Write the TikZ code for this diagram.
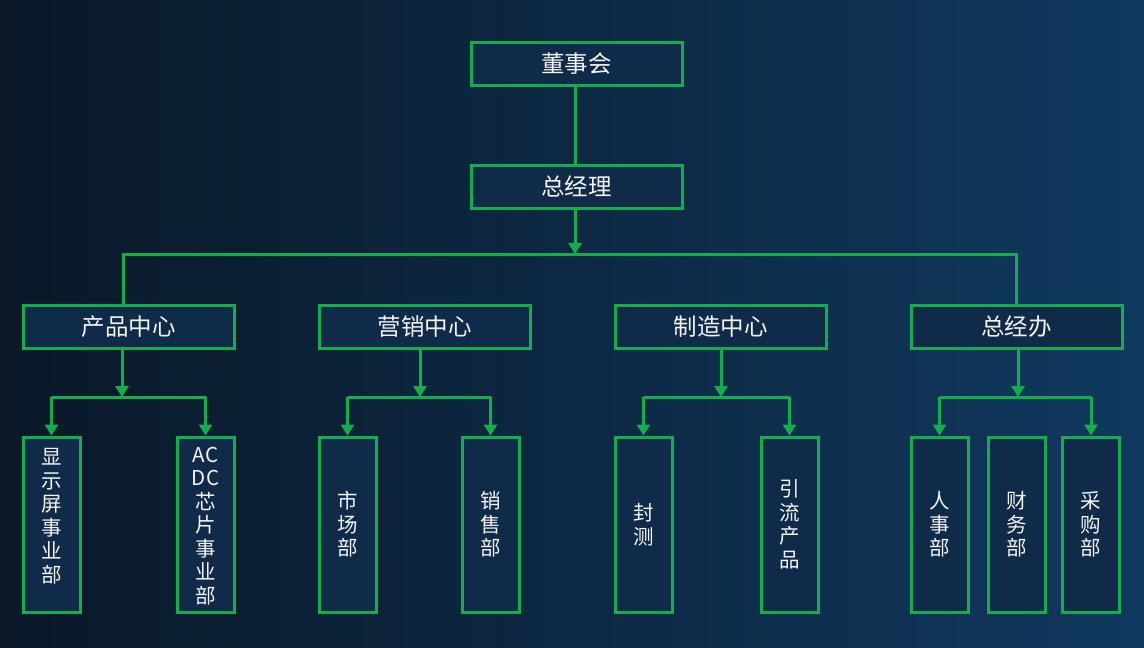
\documentclass[tikz,border=0pt]{standalone}
\usepackage{fontspec}
\newfontfamily\cjk{Noto Sans CJK SC}
\usetikzlibrary{arrows.meta,calc}
\definecolor{gline}{HTML}{12AE4C}
\definecolor{boxfill}{HTML}{0F2B49}
\definecolor{bgL}{HTML}{0A1828}
\definecolor{bgM}{HTML}{113C66}
\definecolor{bgR}{HTML}{10395F}
\definecolor{txt}{HTML}{F4F4F4}
\tikzset{
  conn/.style={draw=gline, line width=3pt},
  arr/.style={conn, -{Triangle[width=13pt,length=11pt]}},
  wbox/.style={draw=gline, line width=3pt, fill=boxfill, minimum width=211pt, minimum height=43pt, inner sep=0pt, text=txt, font=\cjk\fontsize{23.5}{26}\selectfont},
  tbox/.style={draw=gline, line width=3pt, fill=boxfill, minimum width=57pt, minimum height=175pt, text width=50pt, align=center, inner sep=0pt, text=txt, font=\cjk\fontsize{20.5}{23.5}\selectfont},
  vtxt/.style={text width=50pt, align=center, inner sep=0pt, text=txt, font=\cjk\fontsize{20.5}{23.5}\selectfont}
}
\begin{document}
\begin{tikzpicture}[x=1pt,y=-1pt]
\useasboundingbox (0,0) rectangle (1144,648);
\shade[left color=bgL, middle color=bgM, right color=bgR] (0,0) rectangle (1144,648);

\node[wbox] (dsh) at (576.5,63.5) {董事会};
\node[wbox] (zjl) at (576.5,186.5) {总经理};

\node[wbox] (cp) at (128.5,326.5) {产品中心};
\node[wbox] (yx) at (424.5,326.5) {营销中心};
\node[wbox] (zz) at (720.5,326.5) {制造中心};
\node[wbox] (zjb) at (1016.5,326.5) {总经办};

\node[tbox] (xsp) at (51.5,524.5) {};
\node[vtxt] (xspt) at (51.5,516) {显\\示\\屏\\事\\业\\部};
\node[tbox] (acdc) at (205.5,524.5) {};
\node[vtxt] (acdct) at (205.5,526) {AC\\DC\\芯\\片\\事\\业\\部};
\node[tbox] (sc) at (347.5,524.5) {市\\场\\部};
\node[tbox] (xs) at (490.5,524.5) {销\\售\\部};
\node[tbox] (fc) at (643.5,524.5) {封\\测};
\node[tbox] (yl) at (789.5,524.5) {引\\流\\产\\品};
\node[tbox] (rs) at (939.5,524.5) {人\\事\\部};
\node[tbox] (cw) at (1017,524.5) {财\\务\\部};
\node[tbox] (cg) at (1091,524.5) {采\\购\\部};

% top
\draw[conn] (dsh.south -| 575,0) -- (zjl.north -| 575,0);
\coordinate (bl) at (123,254);
\coordinate (br) at (1016,254);
\coordinate (bm) at (575,254);
\draw[arr] (zjl.south -| bm) -- (bm);
\draw[conn] (cp.north -| bl) -- (bl) -- (br) -- (zjb.north -| br);

% level 2 -> 3
\coordinate (j1) at (122,397);
\coordinate (j2) at (420,397);
\coordinate (j3) at (721,397);
\coordinate (j4) at (1018,397);
\draw[arr] (cp.south -| j1) -- (j1);
\draw[arr] (yx.south -| j2) -- (j2);
\draw[arr] (zz.south -| j3) -- (j3);
\draw[arr] (zjb.south -| j4) -- (j4);

\draw[conn] (xsp.north |- j1) -- (acdc.north |- j1);
\draw[arr] (xsp.north |- j1) -- (xsp.north);
\draw[arr] (acdc.north |- j1) -- (acdc.north);

\draw[conn] (sc.north |- j2) -- (xs.north |- j2);
\draw[arr] (sc.north |- j2) -- (sc.north);
\draw[arr] (xs.north |- j2) -- (xs.north);

\draw[conn] (fc.north |- j3) -- (yl.north |- j3);
\draw[arr] (fc.north |- j3) -- (fc.north);
\draw[arr] (yl.north |- j3) -- (yl.north);

\draw[conn] (rs.north |- j4) -- (cg.north |- j4);
\draw[arr] (rs.north |- j4) -- (rs.north);
\draw[arr] (cg.north |- j4) -- (cg.north);
\end{tikzpicture}
\end{document}
